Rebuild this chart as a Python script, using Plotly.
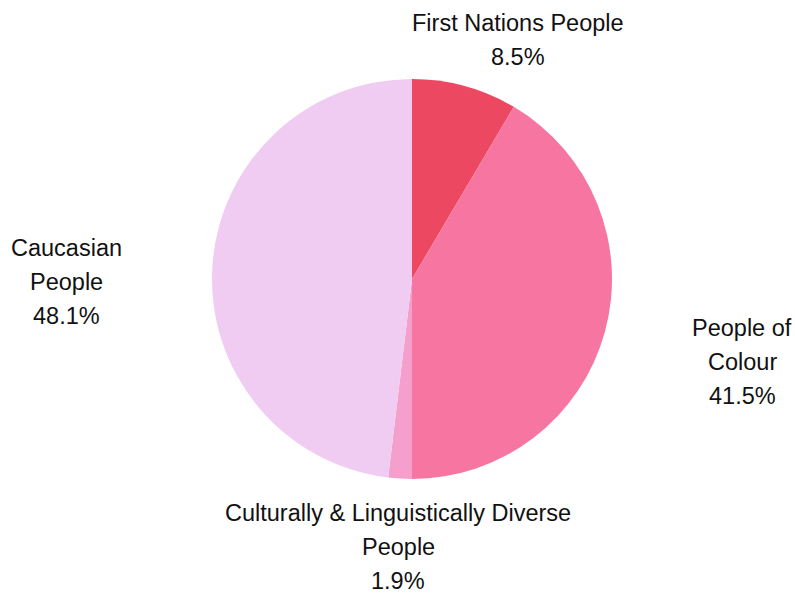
import plotly.graph_objects as go

categories = ["First Nations People", "People of Colour",
              "Culturally & Linguistically Diverse People", "Caucasian People"]
label_lines = [["First Nations People"], ["People of", "Colour"],
               ["Culturally & Linguistically Diverse", "People"], ["Caucasian", "People"]]
values = [8.5, 41.5, 1.9, 48.1]
colors = ["#EC4862", "#F776A1", "#F5A0CC", "#F0CCF2"]

W, H = 795, 594
# label block centres in window pixels (layout only)
label_pos = [(518, 40), (742, 362), (398, 547), (66, 282)]
LINE = 34
CX, CY, R = 412, 279, 200

fig = go.Figure(go.Pie(
    labels=categories, values=values, sort=False, direction="clockwise",
    rotation=0, marker=dict(colors=colors, line=dict(width=0)),
    textinfo="none", hoverinfo="label+percent",
    domain=dict(x=[(CX - R) / W, (CX + R) / W],
                y=[1 - (CY + R) / H, 1 - (CY - R) / H]),
    showlegend=False,
))

annotations = []
for lines, v, (cx, cy) in zip(label_lines, values, label_pos):
    all_lines = lines + [f"{v:.1f}%"]
    n = len(all_lines)
    for i, t in enumerate(all_lines):
        py = cy + (i - (n - 1) / 2) * LINE
        annotations.append(dict(
            text=t, x=cx / W, y=1 - py / H, xref="paper", yref="paper",
            xanchor="center", yanchor="middle", showarrow=False,
            font=dict(family="Liberation Sans, Arial, sans-serif", size=23.5, color="#111111"),
        ))

fig.update_layout(
    width=W, height=H, margin=dict(l=0, r=0, t=0, b=0),
    paper_bgcolor="white", plot_bgcolor="white",
    annotations=annotations,
)
fig.write_html(
    "out.html",
    config={"displayModeBar": False},
    post_script="document.body.style.margin='0';document.body.style.overflow='hidden';",
)
